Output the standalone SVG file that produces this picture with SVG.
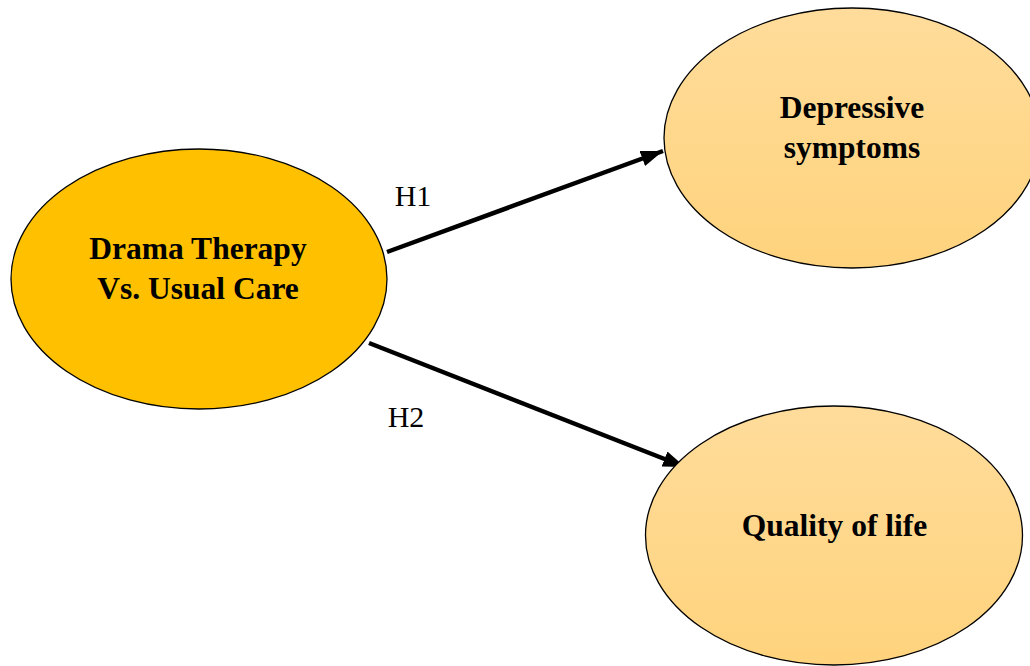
<svg xmlns="http://www.w3.org/2000/svg" width="1030" height="666" viewBox="0 0 1030 666">
<style>
.node{stroke:#000;stroke-width:1.3}
.t{font-family:"Liberation Serif","Times New Roman",serif;font-weight:bold;font-size:31.5px;fill:#000;text-anchor:middle}
.lbl{font-family:"Liberation Serif","Times New Roman",serif;font-size:30px;fill:#000;text-anchor:middle}
.conn{stroke:#000;stroke-width:4.5;fill:none}
</style>
<defs>
<linearGradient id="lg" x1="0" y1="0" x2="0" y2="1">
<stop offset="0" stop-color="#FFDC9B"/>
<stop offset="1" stop-color="#FFD37D"/>
</linearGradient>
<marker id="ah" markerUnits="userSpaceOnUse" markerWidth="24" markerHeight="18" refX="22" refY="8" orient="auto">
<path d="M0,0 L22,8 L0,16 Z" fill="#000"/>
</marker>
</defs>
<rect width="1030" height="666" fill="#fff"/>
<g id="connectors">
<line class="conn" x1="387" y1="252" x2="663" y2="151" marker-end="url(#ah)"/>
<line class="conn" x1="369" y1="343" x2="685" y2="467" marker-end="url(#ah)"/>
<text class="lbl" x="413" y="206">H1</text>
<text class="lbl" x="406" y="427">H2</text>
</g>
<g id="node-drama">
<ellipse class="node" cx="199" cy="279" rx="188" ry="130" fill="#FFC000"/>
<text class="t" x="198" y="259">Drama Therapy</text>
<text class="t" x="198" y="299">Vs. Usual Care</text>
</g>
<g id="node-depressive">
<ellipse class="node" cx="852" cy="138" rx="188" ry="130" fill="url(#lg)"/>
<text class="t" x="852" y="118">Depressive</text>
<text class="t" x="852" y="158">symptoms</text>
</g>
<g id="node-quality">
<ellipse class="node" cx="834" cy="535.5" rx="188.5" ry="129.5" fill="url(#lg)"/>
<text class="t" x="834.5" y="536">Quality of life</text>
</g>
</svg>
